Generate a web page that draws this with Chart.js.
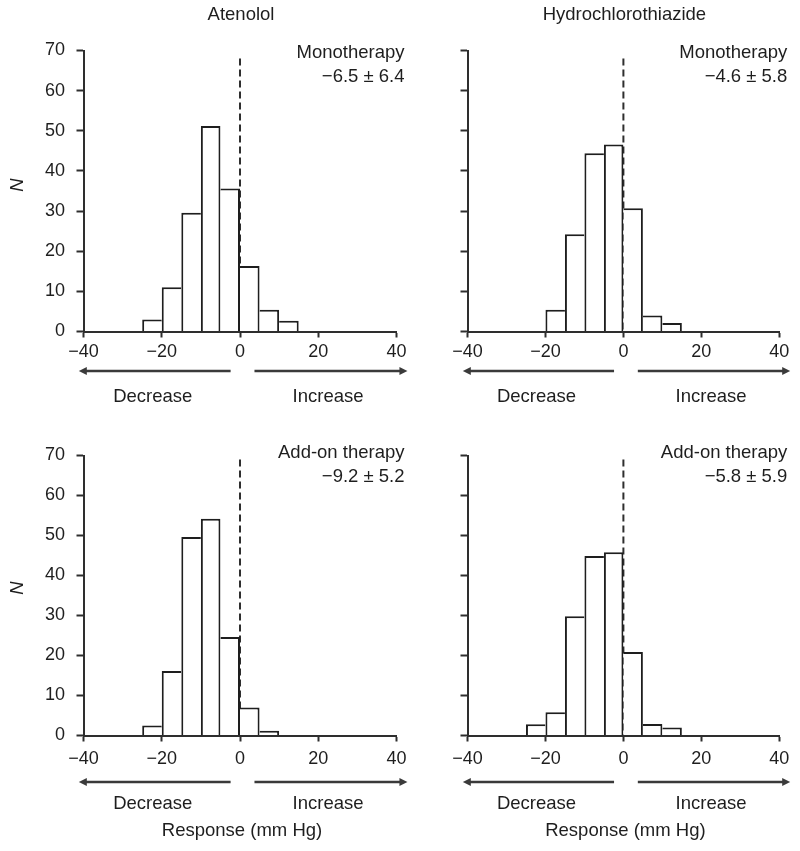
<!DOCTYPE html>
<html>
<head>
<meta charset="utf-8">
<script src="https://cdn.jsdelivr.net/npm/chart.js@4.4.0/dist/chart.umd.min.js"></script>
<style>
html,body{margin:0;padding:0;background:#fff;}
#wrap{position:relative;width:800px;height:851px;overflow:hidden;background:#fff;}
canvas{position:absolute;}
</style>
</head>
<body>
<div id="wrap">
<canvas id="c1" width="430" height="420" style="left:0px;top:0px"></canvas>
<canvas id="c2" width="370" height="420" style="left:430px;top:0px"></canvas>
<canvas id="c3" width="430" height="451" style="left:0px;top:400px"></canvas>
<canvas id="c4" width="370" height="451" style="left:430px;top:400px"></canvas>
</div>
<script>
// ---------- data ----------
const drugNames = ['Atenolol', 'Hydrochlorothiazide'];
const therapyNames = ['Monotherapy', 'Add-on therapy'];
const summaryLabels = ['\u22126.5 \u00b1 6.4', '\u22124.6 \u00b1 5.8', '\u22129.2 \u00b1 5.2', '\u22125.8 \u00b1 5.9'];

const xTickValues = [-40, -20, 0, 20, 40];
const yTickValues = [0, 10, 20, 30, 40, 50, 60, 70];

const atenololMonoCenters = [-22.5, -17.5, -12.5, -7.5, -2.5, 2.5, 7.5, 12.5];
const atenololMonoCounts  = [3, 11, 29.6, 51.2, 35.6, 16.3, 5.4, 2.7];

const hctzMonoCenters = [-17.5, -12.5, -7.5, -2.5, 2.5, 7.5, 12.5];
const hctzMonoCounts  = [5.4, 24.2, 44.4, 46.6, 30.7, 4.0, 2.1];

const atenololAddCenters = [-22.5, -17.5, -12.5, -7.5, -2.5, 2.5, 7.5];
const atenololAddCounts  = [2.5, 16.1, 49.6, 54.2, 24.6, 7.0, 1.2];

const hctzAddCenters = [-22.5, -17.5, -12.5, -7.5, -2.5, 2.5, 7.5, 12.5];
const hctzAddCounts  = [2.8, 5.8, 29.8, 44.9, 45.8, 20.9, 2.9, 2.0];

const zeroLineTops = [68, 68, 69, 69];

// ---------- styling ----------
const FONT = "'Liberation Sans', Arial, Helvetica, sans-serif";
const INK = '#1e1e1e';
const AXIS = '#2e2e2e';

function fmt(v) { return String(v).replace('-', '\u2212'); }

function makePanel(id, centers, counts, cfg) {
  const canvas = document.getElementById(id);
  const W = canvas.width, H = canvas.height;
  const n = counts.length;
  const a = cfg.area;

  const bw = (ctx) => {
    const i = ctx.dataIndex;
    const h = counts[i];
    const left = (i === 0) ? 2 : (h > counts[i - 1] ? 2 : 0);
    const right = (i === n - 1) ? 2 : (h >= counts[i + 1] ? 2 : 0);
    return { top: 2, bottom: 0, left: left, right: right };
  };

  const deco = {
    id: 'deco_' + id,
    afterDraw(chart) {
      const c = chart.ctx;
      const xs = chart.scales.x;
      const px = v => xs.getPixelForValue(v);
      c.save();
      c.fillStyle = INK;
      c.font = '18.5px ' + FONT;
      // title
      if (cfg.title) {
        c.textAlign = 'center'; c.textBaseline = 'middle';
        c.fillText(cfg.title, px(0) + 1, cfg.titleY);
      }
      // annotation
      c.textAlign = 'right'; c.textBaseline = 'middle';
      c.fillText(cfg.annot1, px(40) + 8, cfg.annotY1);
      c.fillText(cfg.annot2, px(40) + 8, cfg.annotY2);
      // arrows
      c.strokeStyle = '#3a3a3a';
      c.fillStyle = '#3a3a3a';
      c.lineWidth = 2.5;
      const ay = cfg.arrowY;
      const lt = px(-41.2), lr = px(-2.4), rl = px(3.7), rt = px(42.8);
      c.beginPath(); c.moveTo(lt + 5, ay); c.lineTo(lr, ay); c.stroke();
      c.beginPath(); c.moveTo(lt, ay); c.lineTo(lt + 8, ay - 4); c.lineTo(lt + 8, ay + 4); c.closePath(); c.fill();
      c.beginPath(); c.moveTo(rl, ay); c.lineTo(rt - 5, ay); c.stroke();
      c.beginPath(); c.moveTo(rt, ay); c.lineTo(rt - 8, ay - 4); c.lineTo(rt - 8, ay + 4); c.closePath(); c.fill();
      // Decrease / Increase
      c.fillStyle = INK;
      c.textAlign = 'center'; c.textBaseline = 'middle';
      c.fillText('Decrease', px(-22.3), cfg.decY);
      c.fillText('Increase', px(22.5), cfg.decY);
      if (cfg.response) {
        c.fillText('Response (mm Hg)', px(0) + 2, cfg.responseY);
      }
      if (cfg.nLabel) {
        c.save();
        c.font = 'italic 18.5px ' + FONT;
        c.translate(18, cfg.nY);
        c.rotate(-Math.PI / 2);
        c.textAlign = 'center'; c.textBaseline = 'middle';
        c.fillText('N', 0, 0);
        c.restore();
      }
      c.restore();
    }
  };

  return new Chart(canvas, {
    type: 'bar',
    data: {
      datasets: [
        {
          type: 'bar',
          data: centers.map((x, i) => ({ x: x, y: counts[i] })),
          backgroundColor: '#ffffff',
          borderColor: INK,
          borderWidth: bw,
          borderSkipped: false,
          barPercentage: 1,
          categoryPercentage: 1,
          inflateAmount: 0,
          order: 0
        },
        {
          type: 'line',
          data: [{ x: 0, y: cfg.zeroTop }, { x: 0, y: 0 }],
          borderColor: AXIS,
          borderWidth: 2,
          borderDash: [7, 4],
          pointRadius: 0,
          fill: false,
          order: 1
        }
      ]
    },
    options: {
      responsive: false,
      animation: false,
      events: [],
      devicePixelRatio: 1,
      layout: { padding: { left: 0, top: a.top, right: W - a.right, bottom: 0 } },
      plugins: { legend: { display: false }, tooltip: { enabled: false } },
      scales: {
        x: {
          type: 'linear',
          min: -40, max: 40,
          offset: false,
          afterFit: s => { s.height = H - a.bottom; },
          afterBuildTicks: s => { s.ticks = xTickValues.map(v => ({ value: v })); },
          ticks: {
            callback: v => fmt(v),
            font: { family: FONT, size: 18 },
            color: INK,
            padding: cfg.xPad,
            maxRotation: 0,
            autoSkip: false
          },
          grid: { display: true, drawOnChartArea: false, drawTicks: true, tickLength: 6, tickWidth: 2, tickColor: AXIS, offset: false },
          border: { display: true, color: AXIS, width: 2 }
        },
        y: {
          type: 'linear',
          min: 0, max: 70,
          afterFit: s => { s.width = a.left; },
          afterBuildTicks: s => { s.ticks = yTickValues.map(v => ({ value: v })); },
          ticks: {
            callback: v => cfg.yLabels ? fmt(v) : '',
            font: { family: FONT, size: 18 },
            color: INK,
            padding: 11.5,
            autoSkip: false
          },
          grid: { display: true, drawOnChartArea: false, drawTicks: true, tickLength: 7, tickWidth: 2, tickColor: AXIS },
          border: { display: true, color: AXIS, width: 2 }
        }
      }
    },
    plugins: [deco]
  });
}

makePanel('c1', atenololMonoCenters, atenololMonoCounts, {
  area: { left: 83.5, right: 396.5, top: 50.5, bottom: 331.5 },
  yLabels: true, nLabel: true, nY: 185,
  title: drugNames[0], titleY: 15,
  annot1: therapyNames[0], annot2: summaryLabels[0], annotY1: 53, annotY2: 77,
  zeroTop: zeroLineTops[0], xPad: 4, arrowY: 371, decY: 397, response: false
});
makePanel('c2', hctzMonoCenters, hctzMonoCounts, {
  area: { left: 37.5, right: 349.3, top: 50.5, bottom: 331.5 },
  yLabels: false, nLabel: false,
  title: drugNames[1], titleY: 15,
  annot1: therapyNames[0], annot2: summaryLabels[1], annotY1: 53, annotY2: 77,
  zeroTop: zeroLineTops[1], xPad: 4, arrowY: 371, decY: 397, response: false
});
makePanel('c3', atenololAddCenters, atenololAddCounts, {
  area: { left: 83.5, right: 396.5, top: 55.5, bottom: 335.5 },
  yLabels: true, nLabel: true, nY: 188,
  title: null,
  annot1: therapyNames[1], annot2: summaryLabels[2], annotY1: 53, annotY2: 77,
  zeroTop: zeroLineTops[2], xPad: 7, arrowY: 382, decY: 404, response: true, responseY: 431
});
makePanel('c4', hctzAddCenters, hctzAddCounts, {
  area: { left: 37.5, right: 349.3, top: 55.5, bottom: 335.5 },
  yLabels: false, nLabel: false,
  title: null,
  annot1: therapyNames[1], annot2: summaryLabels[3], annotY1: 53, annotY2: 77,
  zeroTop: zeroLineTops[3], xPad: 7, arrowY: 382, decY: 404, response: true, responseY: 431
});
</script>
</body>
</html>
